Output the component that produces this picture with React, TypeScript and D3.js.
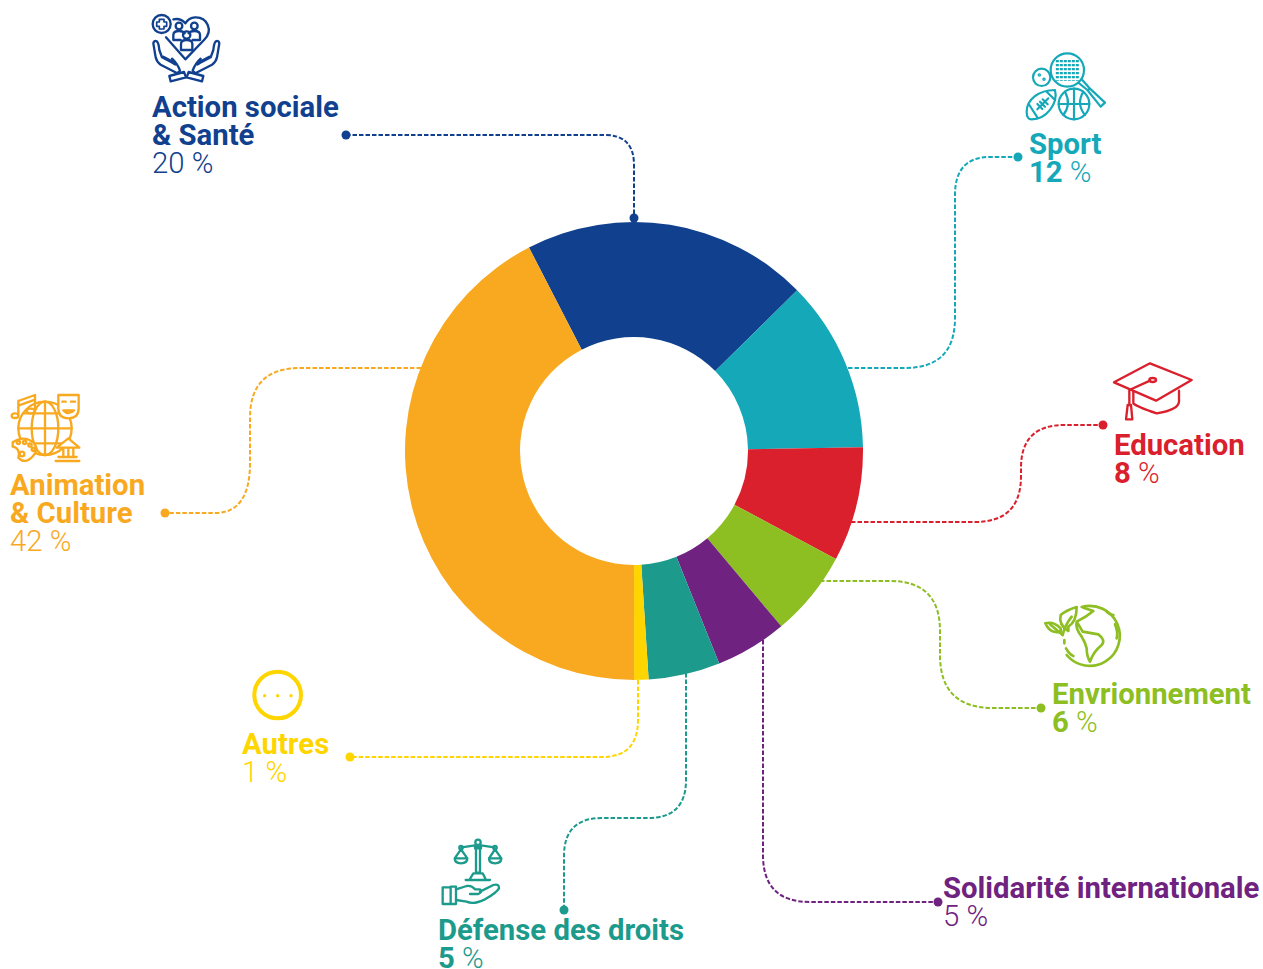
import React from "react";
import * as d3 from "d3";

const categories = ["Action sociale & Santé", "Sport", "Education", "Envrionnement", "Solidarité internationale", "Défense des droits", "Autres", "Animation & Culture"];
const values = [20, 12, 8, 6, 5, 5, 1, 42];
const colors = ["#10408E", "#14A8B8", "#DA1F2D", "#8DBE22", "#6F2280", "#1C9A8C", "#FFD500", "#F8A91F"];
const titleLines = [["Action sociale", "& Santé"], ["Sport"], ["Education"], ["Envrionnement"], ["Solidarité internationale"], ["Défense des droits"], ["Autres"], ["Animation", "& Culture"]];
const boldNumbers = [false, true, true, true, false, true, false, false];

const W = 1263, H = 969, CX = 634, CY = 451, R = 229, r = 114;
const labelPos = [[152, 116.7], [1029, 153.7], [1114, 454.5], [1052, 703.7], [943, 897.7], [438, 940], [242, 753.5], [10, 494.7]];
const leaders = [
  "M346 135H605Q634 135 634 165V218",
  "M848 368H905Q955 368 955 318V195Q955 157 990 157H1018",
  "M851 522H975Q1021 522 1021 476V468Q1021 425 1064 425H1103",
  "M820 581H890Q940 581 940 631V655Q940 708 993 708H1041",
  "M763 640V855Q763 902 810 902H938",
  "M686 673V780Q686 818 648 818H602Q564 818 564 856V910",
  "M638 680V720Q638 757 602 757H350",
  "M421 368H300Q250 368 250 418V463Q250 513 215 513H165",
];
const dots = [[[346, 135], [634, 218]], [[1018, 157]], [[1103, 425]], [[1041, 708]], [[938, 902]], [[564, 910]], [[350, 757]], [[165, 513]]];

const Icon = ({ x, y, color, sw = 7, children }: any) => (
  <g transform={`translate(${x},${y}) scale(${1 / 3})`} fill="none" stroke={color} strokeWidth={sw} strokeLinecap="round" strokeLinejoin="round">{children}</g>
);

const Hand = () => (
  <g>
    <path d="M40 130Q42 120 50 124Q56 128 58 150L66 172L100 190Q110 198 104 188L70 170M40 130L47 172Q50 186 62 194L112 220L120 212Q112 190 96 176" />
    <path d="M88 228L132 216L138 232L92 244Z" />
  </g>
);

const ActionIcon = ({ c }: any) => (
  <Icon x={140} y={0} color={c}>
    <circle cx={65} cy={72} r={27} />
    <path d="M58 58H72V66H80V79H72V87H58V79H50V66H58Z" strokeWidth={5} />
    <path d="M78 112L136 178L192 120C222 90 200 50 165 52C150 53 141 62 136 70C128 60 116 55 100 58" />
    <circle cx={117} cy={78} r={10} /><circle cx={163} cy={78} r={10} /><circle cx={140} cy={105} r={11} />
    <path d="M100 120V105Q100 93 117 93Q130 93 134 100M180 120V105Q180 93 163 93Q150 93 146 100M100 120H122M158 120H180" />
    <path d="M123 150V132Q123 120 140 120Q157 120 157 132V150Z" />
    <Hand />
    <g transform="translate(278,0) scale(-1,1)"><Hand /></g>
  </Icon>
);

const SportIcon = ({ c }: any) => {
  const xs = d3.range(142, 206, 12);
  return (
    <Icon x={1010} y={40} color={c} sw={6.5}>
      <ellipse cx={172} cy={90} rx={50} ry={50} />
      <g strokeWidth={9} strokeDasharray="7 5" strokeLinecap="butt">
        {xs.map((v) => <line key={v} x1={v} y1={60} x2={v} y2={122} />)}
      </g>
      <path d="M205 128L232 150M215 118L240 146M232 150L240 146L285 188L272 200L232 150" />
      <circle cx={95} cy={112} r={26} />
      <circle cx={88} cy={105} r={2} /><circle cx={102} cy={118} r={2} />
      <path d="M50 215C50 180 85 150 135 150C145 190 110 238 65 238C55 238 50 228 50 215Z" />
      <path d="M82 208L115 175M90 185L105 200M98 178L113 193M82 192L97 207M58 195L82 232M110 155L135 180" />
      <circle cx={192} cy={192} r={46} fill="#fff" />
      <path d="M146 192H238M192 146V238M165 155Q185 192 160 225M220 155Q198 192 225 225" />
    </Icon>
  );
};

const EduIcon = ({ c }: any) => (
  <Icon x={1090} y={350} color={c}>
    <path d="M180 40L305 90L198 152L72 97Z" />
    <ellipse cx={188} cy={90} rx={10} ry={6} />
    <path d="M180 92L118 120V165M108 208L113 165H123L127 208Z" />
    <path d="M130 125V160Q140 170 200 190Q265 180 267 155V122" />
  </Icon>
);

const AnimIcon = ({ c }: any) => (
  <Icon x={0} y={385} color={c}>
    <circle cx={135} cy={130} r={80} />
    <ellipse cx={135} cy={130} rx={40} ry={80} />
    <path d="M135 50V210M55 130H215M70 85H200M70 175H200" />
    <path d="M55 48L105 30V75M55 48V90M55 62L105 44" />
    <ellipse cx={45} cy={92} rx={10} ry={7} fill="#fff" />
    <ellipse cx={92} cy={78} rx={12} ry={7} fill="#fff" />
    <path d="M175 30H236V70Q236 100 205 100Q175 100 175 70Z" fill="#fff" />
    <path d="M187 50H197M213 50H225" />
    <path d="M190 76Q205 92 222 76Z" />
    <path d="M38 172Q70 150 100 172Q118 195 100 212Q75 240 55 218Q62 190 38 185Z" fill="#fff" />
    <circle cx={55} cy={172} r={5} /><circle cx={74} cy={172} r={5} /><circle cx={90} cy={180} r={5} /><circle cx={100} cy={193} r={5} /><circle cx={66} cy={207} r={7} />
    <path d="M170 188L205 160L238 188Z" fill="#fff" />
    <path d="M167 228H238M175 216H230" />
    <path d="M190 190V216M205 190V216M220 190V216" />
  </Icon>
);

const EnvIcon = ({ c }: any) => (
  <Icon x={1030} y={595} color={c} sw={8}>
    <path d="M155 36A90 90 0 1 1 110 180" />
    <path d="M103 135V145M108 160Q118 178 130 183" />
    <path d="M160 38L190 48Q170 65 140 80L158 110L205 118Q228 135 215 150Q190 170 180 200Q170 185 170 160Q165 140 155 125Q135 100 140 80" />
    <path d="M230 50Q240 60 250 60M255 88Q265 110 260 130" />
    <path d="M115 108Q85 90 92 60Q110 45 140 36Q140 80 115 95Z" />
    <path d="M98 120Q105 90 125 65" />
    <path d="M92 110Q60 118 46 85Q70 78 92 100Z" />
    <path d="M60 88L98 120" />
  </Icon>
);

const DefIcon = ({ c }: any) => (
  <Icon x={430} y={830} color={c}>
    <circle cx={144} cy={37} r={8} />
    <path d="M135 50H153V55H135ZM138 55V128H150V55" />
    <path d="M95 52L135 46M193 52L153 46" />
    <circle cx={93} cy={53} r={5} /><circle cx={195} cy={53} r={5} />
    <path d="M93 58L74 85M93 58L112 85M74 85H112Q112 100 93 100Q74 100 74 85Z" />
    <path d="M195 58L177 85M195 58L214 85M177 85H214Q214 100 195 100Q177 100 177 85Z" />
    <path d="M130 130H158L168 150H118ZM107 150H180" />
    <path d="M38 172H62V222H38ZM62 170H78V222H62Z" />
    <path d="M78 178L110 168Q125 165 135 178H150Q160 185 145 192H120M150 185L190 165Q208 160 207 175Q200 188 165 208Q130 225 110 215L78 210" />
  </Icon>
);

const OtherIcon = ({ c }: any) => (
  <Icon x={230} y={660} color={c} sw={12}>
    <circle cx={143} cy={105} r={70} />
    {[104, 143, 183].map((v) => <circle key={v} cx={v} cy={107} r={5} fill={c} stroke="none" />)}
  </Icon>
);

const icons = [ActionIcon, SportIcon, EduIcon, EnvIcon, null, DefIcon, OtherIcon, AnimIcon];

export default function App() {
  const pie = d3.pie<number>().sort(null).startAngle(-27.3 * Math.PI / 180).endAngle((360 - 27.3) * Math.PI / 180);
  const arc = d3.arc<d3.PieArcDatum<number>>().innerRadius(r).outerRadius(R);
  const arcs = pie(values);
  return (
    <svg width={W} height={H} viewBox={`0 0 ${W} ${H}`} style={{ position: "absolute", left: 0, top: 0, background: "#fff" }} fontFamily="Roboto">
      <title>{categories.join(", ")}</title>
      {leaders.map((d, i) => (
        <path key={i} d={d} fill="none" stroke={colors[i]} strokeWidth={2} strokeDasharray="4.5 2" />
      ))}
      <g transform={`translate(${CX},${CY})`}>
        {arcs.map((a, i) => <path key={i} d={arc(a) as string} fill={colors[i]} />)}
      </g>
      {dots.map((ds, i) => ds.map((p, j) => <circle key={`${i}-${j}`} cx={p[0]} cy={p[1]} r={4.5} fill={colors[i]} />))}
      {icons.map((I, i) => I ? <I key={i} c={colors[i]} /> : null)}
      {titleLines.map((lines, i) => (
        <g key={i} fill={colors[i]} fontSize={29.3}>
          {lines.map((t, j) => (
            <text key={j} x={labelPos[i][0]} y={labelPos[i][1] + j * 28.2} fontWeight={700}>{t}</text>
          ))}
          <text x={labelPos[i][0]} y={labelPos[i][1] + lines.length * 28.2} fontWeight={boldNumbers[i] ? 700 : 300}>
            {values[i]}<tspan fontWeight={300}> %</tspan>
          </text>
        </g>
      ))}
    </svg>
  );
}
